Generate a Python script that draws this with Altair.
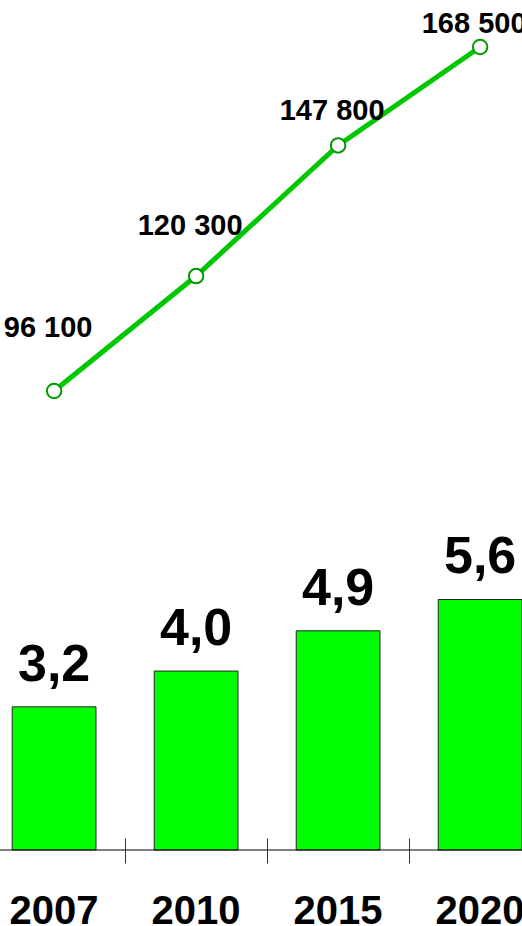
import altair as alt
import pandas as pd

years = ["2007", "2010", "2015", "2020"]
shares = [3.2, 4.0, 4.9, 5.6]
share_labels = ["3,2", "4,0", "4,9", "5,6"]
counts = [96100, 120300, 147800, 168500]
count_labels = ["96 100", "120 300", "147 800", "168 500"]

df = pd.DataFrame({
    "year": years,
    "share": shares,
    "share_label": share_labels,
    "count": counts,
    "count_label": count_labels,
})

FONT = "Liberation Sans"

x_scale = alt.Scale(paddingInner=0.41, paddingOuter=0.043, align=1)
x_enc = alt.X(
    "year:N",
    sort=years,
    scale=x_scale,
    axis=alt.Axis(
        title=None,
        domain=False,
        bandPosition=1.35,
        tickSize=25,
        tickColor="#333333",
        tickWidth=1,
        offset=-12,
        labelFont=FONT,
        labelFontSize=40,
        labelFontWeight="bold",
        labelColor="#000000",
        labelPadding=28,
        labelAngle=0,
    ),
)
x_plain = alt.X("year:N", sort=years, scale=x_scale)

base = alt.Chart(df)

share_scale = alt.Scale(domain=[0, 19], nice=False, zero=False)
count_scale = alt.Scale(domain=[-500, 178400], nice=False, zero=False)
label_scale = alt.Scale(domain=[-26074, 176356], nice=False, zero=False)

bars = base.mark_bar(color="#00ff00", stroke="#222222", strokeWidth=1).encode(
    x=x_enc, y=alt.Y("share:Q", scale=share_scale, axis=None)
)
bar_text = base.mark_text(
    font=FONT, fontSize=52, fontWeight="bold", color="#000000",
    baseline="alphabetic", dy=-26,
).encode(x=x_plain, y=alt.Y("share:Q", scale=share_scale, axis=None), text="share_label:N")
baseline_rule = alt.Chart(pd.DataFrame({"zero": [0.0]})).mark_rule(
    color="#000000", strokeWidth=1
).encode(y=alt.Y("zero:Q", scale=share_scale, axis=None))

line = base.mark_line(color="#00c800", strokeWidth=5).encode(
    x=x_plain, y=alt.Y("count:Q", scale=count_scale, axis=None)
)
points = base.mark_point(
    shape="circle", filled=True, fill="#ffffff", stroke="#009900",
    strokeWidth=2, size=210, opacity=1,
).encode(x=x_plain, y=alt.Y("count:Q", scale=count_scale, axis=None))

line_labels = base.mark_text(
    font=FONT, fontSize=29, fontWeight="bold", color="#000000",
    baseline="alphabetic", align="center", dx=-6,
).encode(x=x_plain, y=alt.Y("count:Q", scale=label_scale, axis=None), text="count_label:N")

chart = alt.layer(bars, baseline_rule, bar_text, line, points, line_labels).resolve_scale(
    y="independent"
).properties(
    width=522,
    height=850,
    autosize=alt.AutoSizeParams(type="none"),
    padding={"left": 0, "right": 0, "top": 0, "bottom": 76},
    background="#ffffff",
).configure_view(stroke=None)

chart.save("out.html", embed_options={"renderer": "svg", "actions": False})
